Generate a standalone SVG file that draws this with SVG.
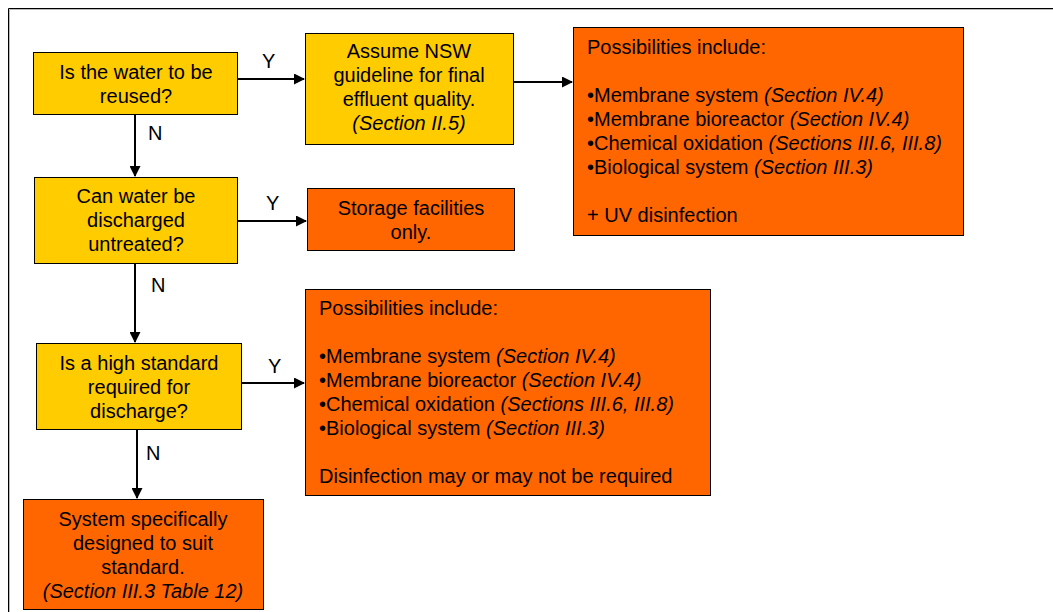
<svg xmlns="http://www.w3.org/2000/svg" width="1053" height="612" viewBox="0 0 1053 612">
<style>
text{font-family:"Liberation Sans",Arial,sans-serif;font-size:20px;fill:#000}
.c{text-anchor:middle}
.i{font-style:italic}
.y{fill:#FFCC00;stroke:#000;stroke-width:1}
.o{fill:#FF6600;stroke:#000;stroke-width:1}
.l{stroke:#000;stroke-width:2;fill:none;marker-end:url(#a)}
</style>
<defs>
<marker id="a" markerWidth="11" markerHeight="11" refX="10" refY="5.5" orient="auto" markerUnits="userSpaceOnUse">
<path d="M0,0 L11,5.5 L0,11 z" fill="#000"/>
</marker>
</defs>
<rect x="0" y="0" width="1053" height="612" fill="#fff"/>
<path d="M8.5,612 V8.5 H1053" fill="none" stroke="#000" stroke-width="1"/>
<path d="M9.5,612 V9.5 H1053" fill="none" stroke="#bbb" stroke-width="1"/>
<g id="connectors">
<path class="l" d="M238,79 H304"/>
<path class="l" d="M513,82 H572"/>
<path class="l" d="M135,114 V176"/>
<path class="l" d="M237,221 H306"/>
<path class="l" d="M135,263 V342"/>
<path class="l" d="M241,383 H304"/>
<path class="l" d="M137,429 V498"/>
<text x="262" y="68">Y</text>
<text x="148" y="140">N</text>
<text x="266" y="210">Y</text>
<text x="151" y="292">N</text>
<text x="268" y="373">Y</text>
<text x="146" y="460">N</text>
</g>
<g id="q1">
<rect class="y" x="33.5" y="52.5" width="204" height="62"/>
<text class="c" x="136" y="79">Is the water to be</text>
<text class="c" x="136" y="103">reused?</text>
</g>
<g id="nsw">
<rect class="y" x="305.5" y="33.5" width="208" height="111"/>
<text class="c" x="409" y="58">Assume NSW</text>
<text class="c" x="409" y="82">guideline for final</text>
<text class="c" x="409" y="106">effluent quality.</text>
<text class="c i" x="409" y="130">(Section II.5)</text>
</g>
<g id="poss1">
<rect class="o" x="573.5" y="27.5" width="390" height="208"/>
<text x="587" y="54">Possibilities include:</text>
<text x="587" y="102">•Membrane system <tspan class="i">(Section IV.4)</tspan></text>
<text x="587" y="126">•Membrane bioreactor <tspan class="i">(Section IV.4)</tspan></text>
<text x="587" y="150">•Chemical oxidation <tspan class="i">(Sections III.6, III.8)</tspan></text>
<text x="587" y="174">•Biological system <tspan class="i">(Section III.3)</tspan></text>
<text x="587" y="222">+ UV disinfection</text>
</g>
<g id="q2">
<rect class="y" x="34.5" y="177.5" width="203" height="86"/>
<text class="c" x="136" y="203">Can water be</text>
<text class="c" x="136" y="227">discharged</text>
<text class="c" x="136" y="251">untreated?</text>
</g>
<g id="storage">
<rect class="o" x="307.5" y="188.5" width="207" height="62"/>
<text class="c" x="411" y="215">Storage facilities</text>
<text class="c" x="411" y="239">only.</text>
</g>
<g id="q3">
<rect class="y" x="36.5" y="343.5" width="205" height="86"/>
<text class="c" x="139" y="370">Is a high standard</text>
<text class="c" x="139" y="394">required for</text>
<text class="c" x="139" y="418">discharge?</text>
</g>
<g id="poss2">
<rect class="o" x="305.5" y="289.5" width="405" height="206"/>
<text x="319" y="315">Possibilities include:</text>
<text x="319" y="363">•Membrane system <tspan class="i">(Section IV.4)</tspan></text>
<text x="319" y="387">•Membrane bioreactor <tspan class="i">(Section IV.4)</tspan></text>
<text x="319" y="411">•Chemical oxidation <tspan class="i">(Sections III.6, III.8)</tspan></text>
<text x="319" y="435">•Biological system <tspan class="i">(Section III.3)</tspan></text>
<text x="319" y="483">Disinfection may or may not be required</text>
</g>
<g id="system">
<rect class="o" x="23.5" y="499.5" width="240" height="110"/>
<text class="c" x="143" y="526">System specifically</text>
<text class="c" x="143" y="550">designed to suit</text>
<text class="c" x="143" y="574">standard.</text>
<text class="c i" x="143" y="598">(Section III.3 Table 12)</text>
</g>
</svg>
